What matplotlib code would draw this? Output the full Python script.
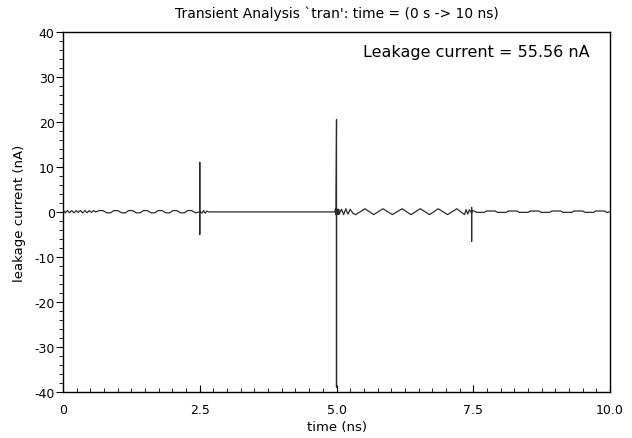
import matplotlib
matplotlib.use("Agg")
import matplotlib.pyplot as plt
from matplotlib.ticker import MultipleLocator, FixedLocator

plt.rcParams['axes.unicode_minus'] = False

# transient trace: time (ns) and leakage current (nA)
time_ns = [
    0.00, 0.04, 0.08, 0.12, 0.16, 0.20, 0.24, 0.28, 0.32, 0.36, 0.40, 0.44, 0.48, 0.52, 0.56, 0.60,
    0.66, 0.73, 0.80, 0.87, 0.93, 1.00, 1.07, 1.14, 1.20, 1.27, 1.34, 1.41, 1.47, 1.54, 1.61, 1.68,
    1.74, 1.81, 1.88, 1.95, 2.01, 2.08, 2.15, 2.22, 2.28, 2.35, 2.42, 2.46, 2.50,
    2.50, 2.50, 2.50, 2.54, 2.57, 2.60, 2.63, 2.66,
    4.97, 4.98, 4.99, 5.00, 5.00, 5.00, 5.01, 5.02, 5.03, 5.04, 5.05,
    5.09, 5.13, 5.17, 5.21, 5.25, 5.30, 5.35, 5.52, 5.68, 5.85, 6.02, 6.20, 6.36, 6.53, 6.70,
    6.86, 7.03, 7.20, 7.34, 7.37, 7.40, 7.43, 7.47,
    7.47, 7.47, 7.47, 7.52, 7.56, 7.70, 7.74, 7.90, 7.94, 8.10, 8.14, 8.30, 8.34, 8.50, 8.54,
    8.70, 8.74, 8.90, 8.94, 9.10, 9.14, 9.30, 9.34, 9.50, 9.54, 9.70, 9.74, 9.90, 9.94, 10.00,
]
current_na = [
    0.5, -0.2, 0.3, -0.2, 0.3, -0.2, 0.3, -0.1, 0.3, -0.2, 0.3, -0.2, 0.3, -0.1, 0.3, 0.0,
    0.3, 0.3, -0.2, -0.2, 0.3, 0.3, -0.2, -0.2, 0.3, 0.3, -0.2, -0.2, 0.3, 0.3, -0.2, -0.2,
    0.3, 0.3, -0.2, -0.2, 0.3, 0.3, -0.2, -0.2, 0.3, 0.3, -0.2, -0.1, 0.0,
    11.0, -5.0, 0.2, -0.3, 0.3, -0.3, 0.2, 0.0,
    0.0, 0.6, -0.6, 20.5, -39.0, 0.6, -0.6, 0.6, -0.6, 0.6, -0.5,
    0.6, -0.6, 0.7, -0.5, 0.6, -0.3, -0.6, 0.7, -0.6, 0.7, -0.6, 0.7, -0.6, 0.7, -0.6,
    0.7, -0.6, 0.7, -0.6, 0.5, -0.5, 0.5, -0.3,
    1.0, -6.5, 0.3, 0.2, -0.1, -0.1, 0.2, 0.2, -0.1, -0.1, 0.2, 0.2, -0.1, -0.1, 0.2,
    0.2, -0.1, -0.1, 0.2, 0.2, -0.1, -0.1, 0.2, 0.2, -0.1, -0.1, 0.2, 0.2, -0.1, 0.0,
]

x_ticks = [0, 2.5, 5.0, 7.5, 10.0]
x_labels = ['0', '2.5', '5.0', '7.5', '10.0']

fig = plt.figure(figsize=(6.32, 4.39), dpi=100)
ax = fig.add_axes([0.0997, 0.105, 0.8655, 0.82])

ax.plot(time_ns, current_na, color='#2b2b2b', lw=0.9)

ax.set_xlim(0, 10)
ax.set_ylim(-40, 40)
ax.xaxis.set_major_locator(FixedLocator(x_ticks))
ax.set_xticklabels(x_labels)
ax.xaxis.set_minor_locator(MultipleLocator(0.25))
ax.yaxis.set_major_locator(MultipleLocator(10))
ax.yaxis.set_minor_locator(MultipleLocator(2))

ax.tick_params(axis='x', which='both', direction='in', top=False, labelsize=9, pad=8)
ax.tick_params(axis='x', which='major', length=5)
ax.tick_params(axis='x', which='minor', length=3)
ax.tick_params(axis='y', which='both', direction='out', right=False, labelsize=9, pad=1)
ax.tick_params(axis='y', which='major', length=5)
ax.tick_params(axis='y', which='minor', length=3)
for s in ax.spines.values():
    s.set_linewidth(1.0)

ax.set_title("Transient Analysis `tran': time = (0 s -> 10 ns)", fontsize=10, pad=11)
ax.set_xlabel('time (ns)', fontsize=9.5, labelpad=3)
ax.set_ylabel('leakage current (nA)', fontsize=9.5, labelpad=6)
ax.text(0.963, 0.947, 'Leakage current = 55.56 nA', transform=ax.transAxes,
        ha='right', va='center', fontsize=11.5)

fig.savefig('out.png', dpi=100)
